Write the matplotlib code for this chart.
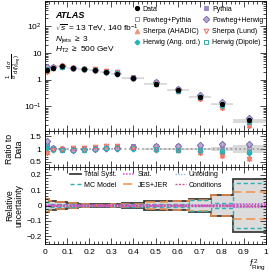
import numpy as np
import matplotlib as mpl
mpl.use('Agg')
import matplotlib.pyplot as plt
from matplotlib.ticker import MultipleLocator, FixedLocator, FuncFormatter, LogLocator, NullFormatter

mpl.rcParams.update({
    'font.family': ['Liberation Sans', 'DejaVu Sans'],
    'font.size': 6,
    'mathtext.fontset': 'custom',
    'mathtext.rm': 'Liberation Sans',
    'mathtext.it': 'Liberation Sans:italic',
    'mathtext.bf': 'Liberation Sans:bold',
    'axes.linewidth': 0.6,
    'xtick.direction': 'in',
    'ytick.direction': 'in',
    'xtick.top': True,
    'ytick.right': True,
    'xtick.major.size': 4,
    'ytick.major.size': 4,
    'xtick.minor.size': 2,
    'ytick.minor.size': 2,
    'xtick.major.width': 0.5,
    'ytick.major.width': 0.5,
    'xtick.minor.width': 0.5,
    'ytick.minor.width': 0.5,
    'xtick.minor.visible': True,
    'ytick.minor.visible': True,
    'xtick.labelsize': 6,
    'ytick.labelsize': 6,
    'ytick.major.pad': 2.5,
    'legend.frameon': False,
})

# ── data ────────────────────────────────────────────────────────────────
edges = [0, 0.02, 0.05, 0.1, 0.15, 0.2, 0.25, 0.3, 0.35, 0.45, 0.55, 0.65, 0.75, 0.85, 1.0]
data = [2.3, 2.8, 3.2, 2.8, 2.5, 2.3, 2.0, 1.7, 1.12, 0.72, 0.40, 0.23, 0.12, 0.030]

ratio_pythia = [1.20, 1.05, 1.00, 1.00, 1.00, 1.02, 1.05, 1.08, 1.10, 1.12, 1.10, 1.10, 1.15, 1.15]
ratio_powpy = [1.15, 1.00, 0.98, 0.98, 1.00, 1.02, 1.05, 1.08, 1.10, 1.10, 1.08, 1.08, 1.10, 1.08]
ratio_powhw = [1.30, 1.05, 1.00, 0.98, 1.00, 1.00, 1.02, 1.05, 1.08, 1.10, 1.12, 1.15, 1.20, 1.18]
ratio_sh_ahadic = [0.90, 1.00, 1.00, 1.00, 1.02, 1.05, 1.08, 1.10, 1.08, 1.00, 0.95, 0.88, 0.78, 0.65]
ratio_sh_lund = [0.85, 0.98, 1.00, 1.02, 1.05, 1.08, 1.10, 1.13, 1.05, 1.00, 0.95, 0.86, 0.72, 0.60]
ratio_hw_ang = [1.05, 0.98, 0.95, 0.96, 0.98, 1.00, 1.00, 1.00, 1.00, 0.98, 0.95, 0.92, 0.90, 0.86]
ratio_hw_dip = [1.10, 1.00, 0.97, 0.97, 0.98, 1.00, 1.02, 1.02, 1.02, 1.00, 0.98, 0.95, 0.93, 0.90]

unc_total_syst = [0.045, 0.030, 0.022, 0.018, 0.012, 0.008, 0.008, 0.010, 0.015, 0.028, 0.030, 0.040, 0.070, 0.170]
unc_stat = [0.004, 0.003, 0.002, 0.002, 0.002, 0.002, 0.002, 0.002, 0.002, 0.003, 0.003, 0.004, 0.006, 0.010]
unc_unfolding = [0.010, 0.006, 0.005, 0.004, 0.003, 0.003, 0.003, 0.003, 0.004, 0.005, 0.005, 0.006, 0.008, 0.012]
unc_mc_model = [0.020, 0.012, 0.010, 0.010, 0.006, 0.004, 0.004, 0.005, 0.008, 0.012, 0.012, 0.035, 0.015, 0.145]
unc_jes_jer = [0.045, 0.030, 0.020, 0.015, 0.010, 0.006, 0.006, 0.008, 0.012, 0.025, 0.028, 0.035, 0.070, 0.090]
unc_conditions = [0.004, 0.003, 0.003, 0.002, 0.002, 0.002, 0.002, 0.002, 0.002, 0.003, 0.003, 0.003, 0.004, 0.006]

edges = np.array(edges)
centers = 0.5 * (edges[1:] + edges[:-1])
data = np.array(data)
tot = np.sqrt(np.array(unc_total_syst) ** 2 + np.array(unc_stat) ** 2)

mc_styles = [
    ('Pythia', ratio_pythia, dict(marker='s', color='#9a86c8', mfc='#9a86c8')),
    ('Powheg+Pythia', ratio_powpy, dict(marker='s', color='#9a92b0', mfc='none')),
    ('Sherpa (AHADIC)', ratio_sh_ahadic, dict(marker='^', color='#f4907c', mfc='#f4907c')),
    ('Herwig (Ang. ord.)', ratio_hw_ang, dict(marker='P', color='#1fb5b5', mfc='#1fb5b5')),
    ('Powheg+Herwig', ratio_powhw, dict(marker='D', color='#7f6fae', mfc='#b7aad6')),
    ('Sherpa (Lund)', ratio_sh_lund, dict(marker='v', color='#f2685a', mfc='none')),
    ('Herwig (Dipole)', ratio_hw_dip, dict(marker='s', color='#3aa8b0', mfc='none')),
]

fig = plt.figure(figsize=(2.69, 2.74), dpi=100)
L, R = 45 / 269, 266 / 269
ax1 = fig.add_axes([L, 1 - 131 / 274, R - L, 130 / 274])
ax2 = fig.add_axes([L, 1 - 167 / 274, R - L, 36 / 274], sharex=ax1)
ax3 = fig.add_axes([L, 1 - 244 / 274, R - L, 77 / 274], sharex=ax1)

# ── main panel ──
ax1.stairs(data * (1 + tot), edges, baseline=data * (1 - tot), fill=True,
           color='#d9d9d9', lw=0)
ax1.hlines(data, edges[:-1], edges[1:], color='#d9d9d9', lw=1.2)
handles = {}
for name, r, st in mc_styles:
    h, = ax1.plot(centers, data * np.array(r), ls='none', ms=3.3, mew=0.7, **st)
    handles[name] = h
hd, = ax1.plot(centers, data, 'o', color='black', ms=2.8, ls='none')
handles['Data'] = hd
ax1.set_yscale('log')
ax1.set_ylim(0.012, 900)
ax1.set_xlim(0, 1)
ax1.yaxis.set_major_locator(LogLocator(base=10, numticks=10))
ax1.yaxis.set_minor_locator(LogLocator(base=10, subs=np.arange(2, 10), numticks=10))
ax1.yaxis.set_minor_formatter(NullFormatter())


def logfmt(v, pos):
    e = int(round(np.log10(v)))
    if e == 0:
        return '1'
    if e == 1:
        return '10'
    return r'$10^{%d}$' % e


ax1.yaxis.set_major_formatter(FuncFormatter(logfmt))
ax1.set_ylabel(r'$\frac{1}{\sigma}\,\frac{\mathrm{d}\sigma}{\mathrm{d}(f^{\,2}_{\mathrm{Ring}})}$',
               fontsize=6)
ax1.yaxis.set_label_coords(-0.1, 0.5)

order = ['Data', 'Pythia', 'Powheg+Pythia', 'Powheg+Herwig', 'Sherpa (AHADIC)',
         'Sherpa (Lund)', 'Herwig (Ang. ord.)', 'Herwig (Dipole)']
leg_order = order[0::2] + order[1::2]
ax1.legend([handles[k] for k in leg_order], leg_order, ncol=2, loc='upper left',
           bbox_to_anchor=(0.39, 0.985), fontsize=5.0, handlelength=0.9,
           handletextpad=0.35, columnspacing=0.5, labelspacing=0.6,
           borderaxespad=0)

ax1.text(0.045, 0.885, 'ATLAS', transform=ax1.transAxes, fontsize=6.5,
         fontweight='bold', style='italic', va='center')
ax1.text(0.045, 0.785, r'$\sqrt{s}$ = 13 TeV, 140 fb$^{-1}$', transform=ax1.transAxes,
         fontsize=6, va='center')
ax1.text(0.045, 0.705, r'$N_{\mathrm{jets}}$ $\geq$ 3', transform=ax1.transAxes,
         fontsize=6, va='center')
ax1.text(0.045, 0.625, r'$H_{\mathrm{T2}}$ $\geq$ 500 GeV', transform=ax1.transAxes,
         fontsize=6, va='center')

# ── ratio panel ──
ax2.stairs(1 + tot, edges, baseline=1 - tot, fill=True, color='#d9d9d9', lw=0)
ax2.axhline(1, color='#999999', ls=':', lw=1.2)
for name, r, st in mc_styles:
    ax2.plot(centers, r, ls='none', ms=3.3, mew=0.7, **st)
ax2.set_ylim(0.3, 1.7)
ax2.yaxis.set_major_locator(FixedLocator([0.5, 1, 1.5]))
ax2.yaxis.set_minor_locator(MultipleLocator(0.1))
ax2.yaxis.set_major_formatter(FuncFormatter(lambda v, p: '1' if v == 1 else '%.1f' % v))
ax2.set_ylabel('Ratio to\nData', fontsize=6.3, linespacing=1.0)
ax2.yaxis.set_label_coords(-0.1, 0.5)

# ── uncertainty panel ──
u_tot = np.array(unc_total_syst)
ax3.stairs(u_tot, edges, baseline=-u_tot, fill=True, color='#dcdcdc', lw=0)
comps = [
    ('Total Syst.', unc_total_syst, dict(color='#3c3c3c', lw=1.3, ls='-')),
    ('JES+JER', unc_jes_jer, dict(color='#f5904a', lw=1.1, ls=(0, (6, 3)))),
    ('MC Model', unc_mc_model, dict(color='#2ab0b0', lw=1.0, ls=(0, (3, 2)))),
    ('Unfolding', unc_unfolding, dict(color='#8cc4e4', lw=1.0, ls=(0, (1, 1)))),
    ('Stat.', unc_stat, dict(color='#e040e0', lw=1.1, ls=(0, (1, 1)))),
    ('Conditions', unc_conditions, dict(color='#c0609a', lw=1.0, ls=(0, (1.5, 1)))),
]
uh = {}
for name, u, st in comps:
    u = np.array(u)
    ax3.stairs(u, edges, baseline=None, **st)
    ax3.stairs(-u, edges, baseline=None, **st)
    uh[name] = plt.Line2D([], [], **st)
uorder = ['Total Syst.', 'MC Model', 'Stat.', 'JES+JER', 'Unfolding', 'Conditions']
ax3.legend([uh[k] for k in uorder], uorder, ncol=3, loc='upper left',
           bbox_to_anchor=(0.1, 0.98), fontsize=5.0, handlelength=1.6,
           handletextpad=0.4, columnspacing=1.0, labelspacing=0.5, borderaxespad=0)
ax3.set_ylim(-0.25, 0.25)
ax3.yaxis.set_major_locator(MultipleLocator(0.1))
ax3.yaxis.set_minor_locator(MultipleLocator(0.02))
ax3.yaxis.set_major_formatter(FuncFormatter(
    lambda v, p: '0' if abs(v) < 1e-9 else ('%.1f' % v).replace('-', '\u2212')))
ax3.xaxis.set_major_locator(MultipleLocator(0.1))
ax3.xaxis.set_minor_locator(MultipleLocator(0.02))
ax3.xaxis.set_major_formatter(FuncFormatter(
    lambda v, p: '0' if abs(v) < 1e-9 else ('1' if abs(v - 1) < 1e-9 else '%.1f' % v)))
ax3.tick_params(axis='y', labelsize=5.6)
ax3.set_ylabel('Relative\nuncertainty', fontsize=6.3, linespacing=1.0)
ax3.yaxis.set_label_coords(-0.1, 0.5)
ax3.set_xlabel(r'$f^{\,2}_{\mathrm{Ring}}$', fontsize=6.5, loc='right', labelpad=1)
ax3.set_xlim(0, 1)

for ax in (ax1, ax2):
    ax.tick_params(which='both', labelbottom=False)

fig.savefig('out.png', dpi=100)
